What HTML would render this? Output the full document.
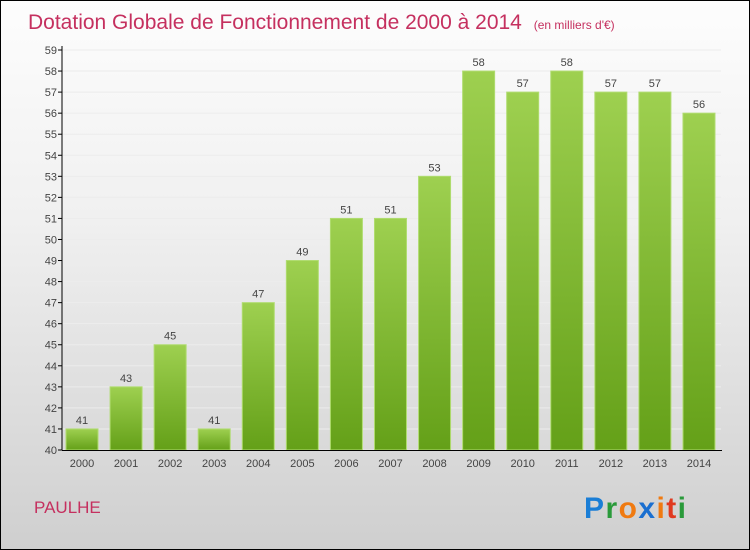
<!DOCTYPE html>
<html><head><meta charset="utf-8"><style>
body{margin:0}
#c{width:748px;height:548px;border:1px solid #000;background:linear-gradient(#fdfdfd,#f0f0f0 40%,#cfcfcf);position:relative;overflow:hidden;font-family:"Liberation Sans",sans-serif}
</style></head><body>
<div id="c">
<svg id="s" width="748" height="548">
<text x="27" y="28" font-size="21" fill="#c5305f">Dotation Globale de Fonctionnement de 2000 à 2014 <tspan font-size="12" dx="6">(en milliers d'€)</tspan></text>
<text x="33" y="512" font-size="17" fill="#c5305f">PAULHE</text>
<g font-size="30" font-weight="bold" font-family="Liberation Sans, sans-serif">
<text x="583" y="517" textLength="102"><tspan fill="#1a7ed6">P</tspan><tspan fill="#2a9a3a">r</tspan><tspan fill="#f07a10">o</tspan><tspan fill="#1a6fd0">x</tspan><tspan fill="#f07a10">i</tspan><tspan fill="#e03a20">t</tspan><tspan fill="#2a9a3a">i</tspan></text></g>
<defs><linearGradient id="g" x1="0" y1="0" x2="0" y2="1"><stop offset="0" stop-color="#9ed050"/><stop offset="1" stop-color="#64a018"/></linearGradient></defs>
<g id="plot"></g>
</svg></div>
<script>
const years=["2000","2001","2002","2003","2004","2005","2006","2007","2008","2009","2010","2011","2012","2013","2014"];
const values=[41,43,45,41,47,49,51,51,53,58,57,58,57,57,56];
const yTicks=[40,41,42,43,44,45,46,47,48,49,50,51,52,53,54,55,56,57,58,59];
const ns="http://www.w3.org/2000/svg";
const g=document.getElementById('plot');
const y0=449,yMin=40,yMax=59,yTop=49;
const ys=v=>y0-(v-yMin)*(y0-yTop)/(yMax-yMin);
const xs=i=>81+i*44.07;
function mk(t,a){const e=document.createElementNS(ns,t);for(const k in a)e.setAttribute(k,a[k]);g.appendChild(e);return e;}
yTicks.forEach(v=>{
 const l=mk('line',{x1:61,x2:720,y1:ys(v),y2:ys(v),stroke:'#ececec'});
 
 
 const t=mk('line',{x1:57,x2:61,y1:ys(v),y2:ys(v),stroke:'#000'});
 
 
 const tx=mk('text',{x:56,y:ys(v)+4,'text-anchor':'end','font-size':11,fill:'#444'});
 tx.textContent=v;
 
 
});
values.forEach((v,i)=>{
 const b=mk('rect',{x:xs(i)-16,y:ys(v),width:32,height:y0-ys(v),fill:'url(#g)',stroke:'#b0dc70','stroke-width':1});
 
 
 const vl=mk('text',{x:xs(i),y:ys(v)-5,'text-anchor':'middle','font-size':11,fill:'#444'});
 vl.textContent=v;
 
 
 const xl=mk('text',{x:xs(i),y:466,'text-anchor':'middle','font-size':11,fill:'#444'});
 xl.textContent=years[i];
 
 
});
const ya=mk('line',{x1:61,x2:61,y1:45,y2:y0,stroke:'#000'});


const xa=mk('line',{x1:61,x2:721,y1:y0+0.5,y2:y0+0.5,stroke:'#000'});


</script>
</body></html>
